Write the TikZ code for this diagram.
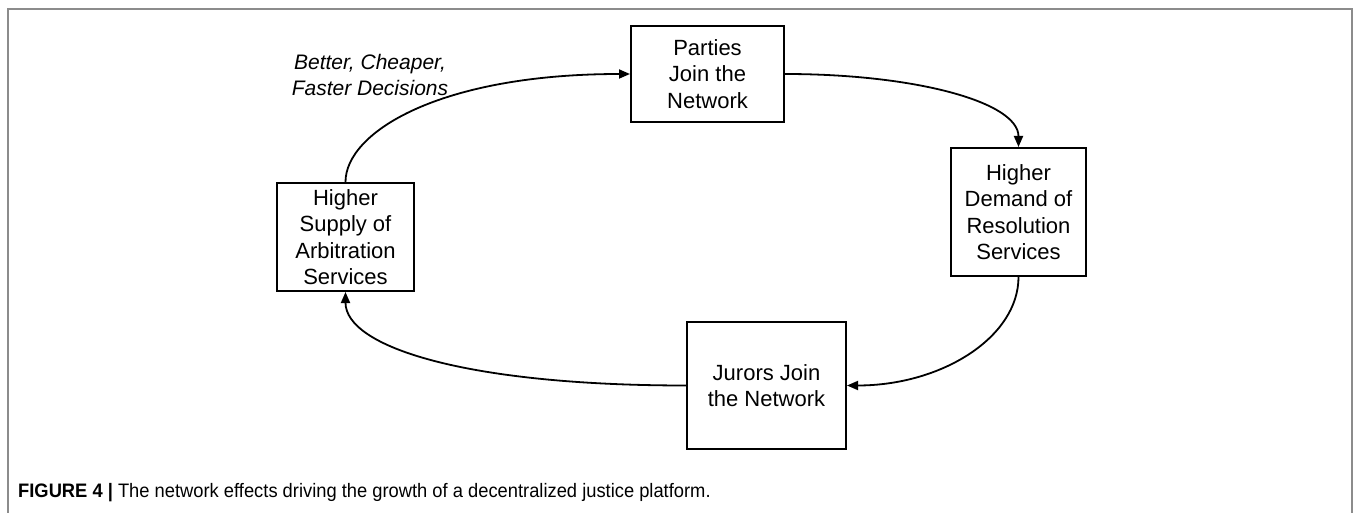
\documentclass[tikz,border=0pt]{standalone}
\usepackage{fontspec}
\setmainfont{Liberation Sans}
\usetikzlibrary{arrows.meta}
\begin{document}
\begin{tikzpicture}[x=1pt,y=-1pt,
  box/.style={draw=black, line width=2pt, inner sep=0pt, align=center, font=\fontsize{22}{26.5}\selectfont},
  link/.style={line width=1.8pt, -{Triangle[length=11pt,width=9pt]}},
  frameline/.style={draw=black!45, line width=1.5pt}]
\useasboundingbox (0,0) rectangle (1355,513);
\draw[frameline] (8,513) -- (8,9) -- (1352,9) -- (1352,513);
\node[box, minimum width=153pt, minimum height=96pt] (par) at (707.5,74) {Parties\\Join the\\Network};
\node[box, minimum width=135pt, minimum height=128pt] (dem) at (1018.5,212) {Higher\\Demand of\\Resolution\\Services};
\node[box, minimum width=159pt, minimum height=127pt] (jur) at (766.5,385.5) {Jurors Join\\the Network};
\node[box, minimum width=137pt, minimum height=108pt] (sup) at (345.5,237) {Higher\\Supply of\\Arbitration\\Services};
\node[align=center, inner sep=0pt, font=\fontsize{21}{26}\selectfont\itshape] (lab) at (370,75) {Better, Cheaper,\\Faster Decisions};
\draw[link] (sup.north) .. controls +(0,-50) and +(-190,0) .. (par.west);
\draw[link] (par.east) .. controls +(130,0) and +(0,-45) .. (dem.north);
\draw[link] (dem.south) .. controls +(0,60) and +(95,0) .. (jur.east);
\draw[link] (jur.west) .. controls +(-220,0) and +(0,55) .. (sup.south);
\node[anchor=base west, inner sep=0pt, font=\fontsize{19.5}{22}\selectfont] (cap) at (18,497) {\scalebox{0.94}[1]{\textbf{FIGURE 4 |} The network effects driving the growth of a decentralized justice platform.}};
\end{tikzpicture}
\end{document}
